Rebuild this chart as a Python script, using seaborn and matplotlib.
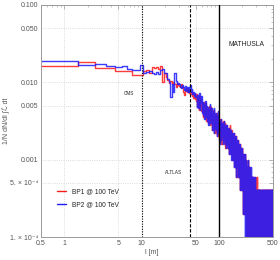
import numpy as np
import pandas as pd
import matplotlib
matplotlib.use("Agg")
import matplotlib.pyplot as plt
import seaborn as sns
from matplotlib.lines import Line2D
from matplotlib.ticker import FixedLocator, FixedFormatter, LogLocator, NullFormatter

# ---------------- data ----------------
N_EVENTS = 5000          # events per sample; bins are 1 m wide, centred on l = 1..500

# counts per 1 m bin, l = 1 .. 200
bp1_head = [81, 92, 77, 76, 70, 70, 70, 62, 63, 62,
            71, 72, 66, 78, 76, 79, 74, 81, 50, 66,
            58, 53, 49, 52, 47, 50, 48, 44, 49, 46,
            45, 43, 47, 44, 38, 34, 40, 42, 37, 41,
            36, 40, 35, 38, 33, 36, 31, 34, 30, 35,
            29, 35, 24, 31, 22, 33, 25, 30, 21, 28,
            26, 18, 28, 20, 25, 17, 27, 21, 16, 24,
            23, 15, 21, 17, 25, 14, 22, 18, 24, 15,
            20, 12, 19, 14, 22, 13, 18, 11, 19, 15,
            18, 11, 20, 13, 16, 10, 19, 12, 17, 14,
            16, 9, 15, 11, 17, 10, 14, 8, 15, 12,
            15, 9, 14, 10, 16, 8, 13, 11, 15, 9,
            13, 7, 12, 9, 14, 8, 11, 13, 7, 12,
            12, 7, 11, 6, 13, 8, 10, 14, 7, 9,
            11, 6, 10, 7, 12, 5, 9, 11, 6, 8,
            10, 5, 9, 6, 11, 5, 8, 10, 4, 7,
            9, 4, 8, 5, 10, 4, 7, 9, 3, 6,
            8, 4, 7, 3, 9, 5, 6, 8, 3, 7,
            7, 3, 8, 4, 6, 2, 8, 5, 3, 7,
            6, 3, 7, 2, 6, 4, 7, 3, 5, 2]

bp2_head = [94, 84, 86, 82, 80, 82, 74, 72, 72, 84,
            66, 68, 70, 66, 64, 68, 64, 72, 74, 67,
            67, 55, 50, 32, 48, 38, 66, 52, 47, 49,
            48, 44, 42, 46, 43, 40, 45, 39, 43, 38,
            44, 40, 46, 37, 41, 35, 38, 33, 36, 32,
            32, 24, 34, 23, 30, 36, 22, 27, 33, 24,
            20, 28, 19, 26, 17, 24, 29, 18, 25, 19,
            16, 24, 14, 22, 19, 26, 15, 21, 17, 23,
            14, 21, 12, 19, 16, 23, 11, 18, 13, 20,
            12, 19, 14, 10, 18, 13, 21, 11, 16, 12,
            11, 16, 8, 14, 10, 17, 9, 13, 15, 10,
            10, 15, 8, 13, 11, 16, 9, 14, 12, 8,
            8, 13, 10, 7, 14, 9, 12, 8, 13, 10,
            7, 12, 9, 13, 6, 11, 8, 12, 10, 7,
            6, 11, 8, 12, 5, 10, 7, 11, 9, 6,
            5, 10, 7, 11, 4, 9, 6, 10, 8, 5,
            4, 9, 6, 10, 3, 8, 5, 9, 7, 4,
            4, 8, 5, 9, 3, 7, 4, 8, 6, 3,
            3, 7, 5, 8, 2, 6, 4, 7, 5, 3,
            4, 6, 2, 7, 3, 6, 4, 2, 7, 3]

# counts per 1 m bin, l = 201 .. 500 (one digit per bin)
bp1_tail = ("5263451536" "4153624251" "3052413204" "2403152031" "4130240312"
            "2031402130" "1302103021" "2013020132" "1202031020" "0310201302"
            "1020210302" "2101202010" "0210120212" "1020201201" "2010210201"
            "1020120102" "0201202010" "1020102201" "2010201020" "0120201021"
            "0102010202" "1020201020" "0201020102" "1020102010" "2010201020"
            "1020102010" "0201020120" "1020102010" "0201020102" "1020201020")
bp2_tail = ("3625145362" "2514362503" "4130523142" "3042130524" "1304203142"
            "3102031402" "2013021302" "0312012031" "2021302102" "1203010210"
            "2010201201" "1201020102" "0210201201" "1202010201" "0120201021"
            "1201020102" "2010120201" "0102012020" "1020102012" "2101020102"
            "1020102010" "0120201020" "1020102102" "0102010201" "2010120102"
            "0102010201" "1020102010" "2010201020" "0102010210" "1020102010")

series_labels = ["BP1 @ 100 TeV", "BP2 @ 100 TeV"]
series_colors = ["#ff1a1a", "#1a1aff"]

x_ticks = [0.5, 1, 5, 10, 50, 100, 500]
x_tick_labels = ["0.5", "1", "5", "10", "50", "100", "500"]
y_ticks = [1e-4, 5e-4, 1e-3, 5e-3, 1e-2, 5e-2, 1e-1]
y_tick_labels = ["1. × 10⁻⁴", "5. × 10⁻⁴", "0.001", "0.005", "0.010", "0.050", "0.100"]

detector_names = ["CMS", "ALTLAS", "MATHUSLA"]
detector_l = [10, 42, 100]

# ---------------- build ----------------
bp1 = np.array(bp1_head + [int(c) for c in bp1_tail], dtype=float)
bp2 = np.array(bp2_head + [int(c) for c in bp2_tail], dtype=float)
centers = np.arange(1, len(bp1) + 1, dtype=float)
edges = [0.5 + i for i in range(len(bp1) + 1)]

sns.set_style("white")
plt.rcParams["font.family"] = ["Liberation Sans", "DejaVu Sans"]
plt.rcParams["path.simplify"] = False

fig = plt.figure(figsize=(2.8, 2.6), dpi=100)
ax = fig.add_axes([41 / 280, 1 - 237 / 260, 232 / 280, 232 / 260])

for counts, col in zip([bp1, bp2], series_colors):
    df = pd.DataFrame({"l": centers, "w": counts / N_EVENTS})
    sns.histplot(data=df, x="l", weights="w", bins=edges,
                 element="step", fill=False, color=col, linewidth=1.0,
                 alpha=0.85, ax=ax)

ax.set_xscale("log")
ax.set_yscale("log", nonpositive="clip")
ax.set_xlim(0.5, 500)
ax.set_ylim(1e-4, 0.1)

# detector lines
styles = [(0, (1, 1.3)), (0, (3, 1.5)), "-"]
widths = [0.8, 0.8, 1.0]
for l, ls, lw in zip(detector_l, styles, widths):
    ax.axvline(l, color="black", linestyle=ls, linewidth=lw, zorder=3)

ax.text(6.9, 0.0071, detector_names[0], fontsize=3.3, ha="center", va="center", color="#222222")
ax.text(25.5, 6.9e-4, detector_names[1], fontsize=3.3, ha="center", va="center", color="#222222")
ax.text(224, 0.0313, detector_names[2], fontsize=4.9, ha="center", va="center", color="#222222")

# ticks and grid
gray = "#9a9a9a"
ax.xaxis.set_major_locator(FixedLocator(x_ticks))
ax.xaxis.set_major_formatter(FixedFormatter(x_tick_labels))
ax.yaxis.set_major_locator(FixedLocator(y_ticks))
ax.yaxis.set_major_formatter(FixedFormatter(y_tick_labels))
ax.xaxis.set_minor_locator(LogLocator(base=10, subs=np.arange(1, 10)))
ax.yaxis.set_minor_locator(LogLocator(base=10, subs=np.arange(1, 10)))
ax.xaxis.set_minor_formatter(NullFormatter())
ax.yaxis.set_minor_formatter(NullFormatter())
ax.tick_params(which="both", direction="in", top=True, right=True,
               color=gray, labelsize=5, labelcolor="#555555", pad=2)
ax.tick_params(which="major", length=3, width=0.5)
ax.tick_params(which="minor", length=1.5, width=0.4)
ax.grid(which="major", linestyle=":", color="#cfcfcf", linewidth=0.6)
for s in ax.spines.values():
    s.set_color(gray)
    s.set_linewidth(0.7)

ax.set_xlabel("")
ax.set_ylabel("")
fig.text(152 / 280, 1 - 253 / 260, "l [m]", fontsize=5, color="#555555", ha="center", va="center")
fig.text(7 / 280, 1 - 121 / 260, "1/N dN/dl ∫ℒ dt", fontsize=5, color="#555555",
         rotation=90, ha="center", va="center")

handles = [Line2D([], [], color=c, lw=1.0) for c in series_colors]
ax.legend(handles, series_labels, loc="center left", frameon=False,
          bbox_to_anchor=(57 / 280, 1 - 198.7 / 260), bbox_transform=fig.transFigure,
          fontsize=4.8, handlelength=1.3, handletextpad=1.0, labelspacing=0.9,
          borderpad=0, borderaxespad=0)

fig.savefig("out.png", dpi=100)
